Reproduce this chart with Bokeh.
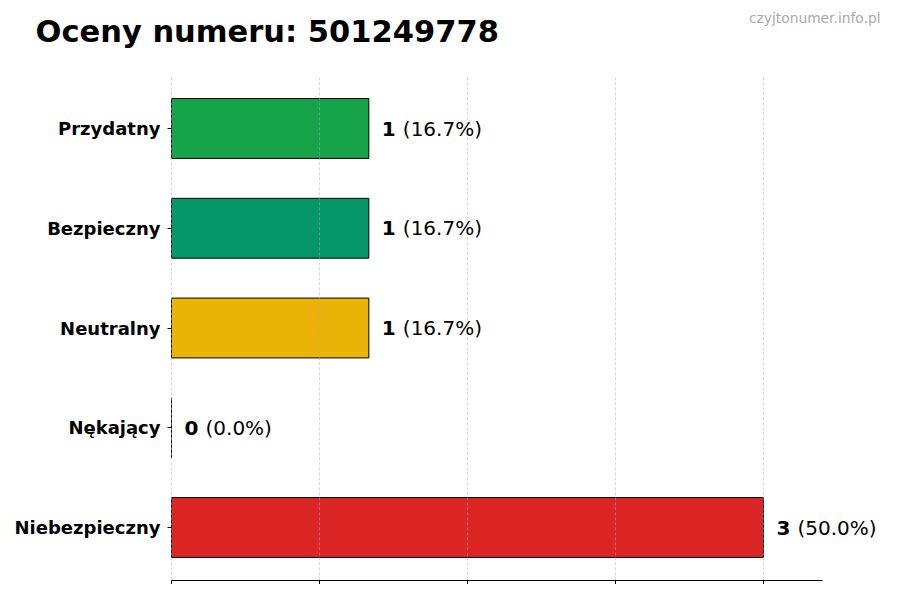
from bokeh.plotting import figure
from bokeh.models import ColumnDataSource, Range1d, FixedTicker, Label
from bokeh.core.properties import value
from bokeh.embed import file_html
from bokeh.resources import INLINE

# data (bottom to top, like barh)
categories = ["Niebezpieczny", "Nękający", "Neutralny", "Bezpieczny", "Przydatny"]
counts = [3, 0, 1, 1, 1]
colors = ["#dc2626", "#ea580c", "#eab308", "#059669", "#16a34a"]
x_ticks = [0, 0.75, 1.5, 2.25, 3.0]
title_text = "Oceny numeru: 501249778"
watermark = "czyjtonumer.info.pl"

total = sum(counts)
ys = list(range(len(categories)))
src = ColumnDataSource(data=dict(
    y=ys,
    count=counts,
    color=colors,
    num=[str(c) for c in counts],
    pct=["(%.1f%%)" % (100.0 * c / total) for c in counts],
))

FONT = value("DejaVu Sans")
W, H = 884, 584
# pixel geometry of the plot area
x0_px, xunit = 171, 197.33
y0_px, yunit = 527, 99.75
x_lo, x_hi = 0, 3.3
y_lo, y_hi = -0.53, 4.53

p = figure(
    width=W, height=H,
    x_range=Range1d(-x0_px / xunit, (W - x0_px) / xunit),
    y_range=Range1d(-(H - y0_px) / yunit, y0_px / yunit),
    output_backend="svg", toolbar_location=None,
    min_border=0,
)
p.outline_line_color = None
p.background_fill_color = "white"
p.xgrid.visible = False
p.ygrid.visible = False

p.hbar(y="y", left=0, right="count", height=0.6, fill_color="color",
       line_color="black", line_width=1, source=src)

# dashed vertical grid over the bars
p.segment(x0=x_ticks, y0=[y_lo] * len(x_ticks), x1=x_ticks, y1=[y_hi] * len(x_ticks),
          line_color="#b0b0b0", line_alpha=0.5, line_width=1, line_dash="3 2")

p.text(x="count", y="y", text="num", x_offset=13, text_font=FONT,
       text_font_style="bold", text_font_size="20px", text_baseline="middle",
       text_color="black", source=src)
p.text(x="count", y="y", text="pct", x_offset=34, text_font=FONT,
       text_font_size="20px", text_baseline="middle", text_color="black",
       source=src)

# axes
p.yaxis.fixed_location = 0
p.yaxis.ticker = FixedTicker(ticks=ys)
p.yaxis.major_label_overrides = {i: c for i, c in zip(ys, categories)}
p.yaxis.axis_line_color = None
p.yaxis.major_tick_in = 0
p.yaxis.major_tick_out = 4
p.yaxis.minor_tick_line_color = None
p.yaxis.major_label_standoff = 7
p.yaxis.major_label_text_font = "DejaVu Sans"
p.yaxis.major_label_text_font_style = "bold"
p.yaxis.major_label_text_font_size = "18px"
p.yaxis.major_label_text_color = "black"

p.xaxis.fixed_location = y_lo
p.xaxis.bounds = (x_lo, x_hi)
p.xaxis.ticker = FixedTicker(ticks=x_ticks)
p.xaxis.major_label_overrides = {t: "" for t in x_ticks}
p.xaxis.axis_line_color = "black"
p.xaxis.axis_line_width = 1
p.xaxis.major_tick_in = 0
p.xaxis.major_tick_out = 5
p.xaxis.minor_tick_line_color = None

# title and watermark
p.add_layout(Label(x=35, y=H - 31, x_units="screen", y_units="screen",
                   text=title_text, text_font="DejaVu Sans",
                   text_font_style="bold", text_font_size="30.5px",
                   text_color="black", text_baseline="alphabetic"))
p.add_layout(Label(x=880, y=H - 17, x_units="screen", y_units="screen",
                   text=watermark, text_font="DejaVu Sans",
                   text_font_size="13.8px", text_color="#aaaaaa",
                   text_align="right", text_baseline="alphabetic"))

open("out.html", "w").write(file_html(p, INLINE))
